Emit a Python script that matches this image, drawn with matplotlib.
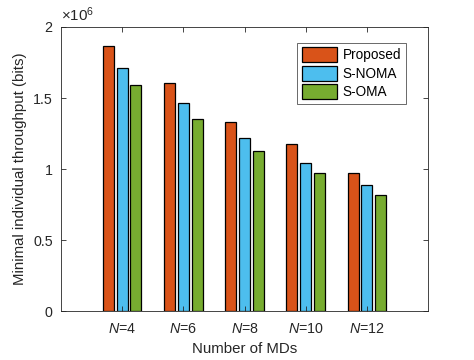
import numpy as np
import matplotlib.pyplot as plt

plt.rcParams['font.family'] = ['Liberation Sans', 'DejaVu Sans']
plt.rcParams['mathtext.fontset'] = 'custom'
plt.rcParams['mathtext.rm'] = 'Liberation Sans'
plt.rcParams['mathtext.it'] = 'Liberation Sans:italic'

# ─── Data (throughput in units of 1e6 bits) ───────────────────────────────────

categories = ['$N$=4', '$N$=6', '$N$=8', '$N$=10', '$N$=12']
series_names = ['Proposed', 'S-NOMA', 'S-OMA']
proposed = [1.866, 1.606, 1.331, 1.176, 0.972]
s_noma = [1.711, 1.465, 1.218, 1.042, 0.887]
s_oma = [1.592, 1.352, 1.127, 0.972, 0.817]

colors = ['#D95319', '#4DBEEE', '#77AC30']
axcol = '#262626'

fig = plt.figure(figsize=(4.74, 3.6), dpi=100)
ax = fig.add_axes([0.1287, 0.1361, 0.903 - 0.1287, 0.925 - 0.1361])

x = np.arange(1, len(categories) + 1)
offset = 0.225
width = 0.18
for i, (vals, name) in enumerate(zip([proposed, s_noma, s_oma], series_names)):
    ax.bar(x + (i - 1) * offset, vals, width, color=colors[i],
           edgecolor='black', linewidth=0.9, label=name)

ax.set_xlim(0, 6)
ax.set_ylim(0, 2)
ax.set_xticks(x)
ax.set_xticklabels(categories)
ax.set_yticks([0, 0.5, 1, 1.5, 2])
ax.set_yticklabels(['0', '0.5', '1', '1.5', '2'])
ax.tick_params(direction='in', top=True, right=True, labelsize=10.3,
               colors=axcol, length=3.5, width=0.6)
ax.tick_params(axis='x', pad=8)
ax.tick_params(axis='y', pad=6)
for s in ax.spines.values():
    s.set_color(axcol)
    s.set_linewidth(0.6)

ax.set_xlabel('Number of MDs', fontsize=10.8, color=axcol, labelpad=4)
ax.set_ylabel('Minimal individual throughput (bits)', fontsize=10.8, color=axcol, labelpad=4)
ax.text(0.0, 1.01, r'$\times$10$^6$', transform=ax.transAxes, fontsize=10.8,
        color=axcol, ha='left', va='bottom')

leg = ax.legend(loc='upper right', bbox_to_anchor=(0.94, 0.945), fontsize=9.8,
                frameon=True, fancybox=False, borderpad=0.35, labelspacing=0.25,
                handlelength=2.6, handleheight=1.3, handletextpad=0.4, borderaxespad=0)
leg.get_frame().set_edgecolor(axcol)
leg.get_frame().set_linewidth(0.6)

fig.savefig('out.png', dpi=100)
